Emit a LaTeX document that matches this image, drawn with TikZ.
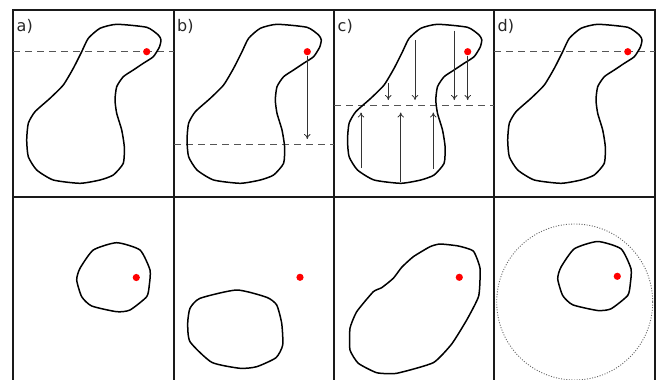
\documentclass[tikz,border=0pt]{standalone}
\usepackage{fontspec}
\setmainfont{DejaVu Sans}
\usetikzlibrary{arrows.meta}
\definecolor{framec}{HTML}{1A1A1A}
\definecolor{dashc}{HTML}{555555}
\definecolor{arrc}{HTML}{333333}
\tikzset{
  frame/.style={draw=framec, line width=2pt},
  blob/.style={draw=black, line width=1.5pt, line join=round},
  guide/.style={draw=dashc, line width=0.9pt, dash pattern=on 7pt off 5pt},
  shiftarrow/.style={draw=arrc, line width=0.8pt, -{To[length=5pt,width=6.5pt]}},
  reddot/.style={fill=red, draw=none},
  lbl/.style={anchor=base west, inner sep=0pt, font=\fontsize{16}{16}\selectfont, text=black!85},
  ring/.style={draw=gray!80!black, line width=0.9pt, dash pattern=on 1pt off 1.6pt}
}
\newcommand\blobtop{plot[smooth cycle,tension=0.35] coordinates {(116.7,24.3) (146.7,27.3) (158.3,35) (161,40) (159.3,47.3) (153.3,56.7) (143.3,63.3) (133.3,70) (123.3,76.7) (116.7,86.7) (115,100) (116.7,113.3) (121.7,130) (124.3,146.7) (123.3,163.3) (113.3,175) (100,180) (80,183.3) (53.3,180) (36.7,170) (28.3,156.7) (26.7,140) (28.3,123.3) (35,111.7) (50,98.3) (63.3,85) (73.3,68.3) (81.7,51.7) (88.3,38.3) (100,28.3)}}
\newcommand\blobsmall{plot[smooth cycle,tension=0.35] coordinates {(116.7,242.7) (140,250) (150,270) (149.3,285) (146.7,296.7) (130,310) (116.7,311.7) (91.7,306) (81.7,296.7) (76.7,280) (80,268.3) (93.3,250)}}
\begin{document}
\begin{tikzpicture}[x=1pt,y=-1pt]
\useasboundingbox (0,0) rectangle (661,380);
\begin{scope}
\clip (0,0) rectangle (661,380);
% frame grid
\draw[frame] (13,10) -- (655,10);
\draw[frame] (13,197) -- (655,197);
\foreach \xx in {13,174,334,494,655} \draw[frame] (\xx,9) -- (\xx,390);

% top-row guides
\draw[guide] (13,51.7) -- (174,51.7);
\draw[guide] (174,144) -- (334,144);
\draw[guide] (334,105) -- (494,105);
\draw[guide] (494,51.7) -- (655,51.7);

% top-row blobs
\draw[blob] \blobtop;
\draw[blob, shift={(160.3,0)}] \blobtop;
\draw[blob, shift={(320.8,0)}] \blobtop;
\draw[blob, shift={(481,0)}] \blobtop;

% arrows in b
\coordinate (b1s) at (307.3,56);
\coordinate (b1e) at (307.3,139);
\draw[shiftarrow] (b1s) -- (b1e);

% arrows in c
\coordinate (c1s) at (388.3,83);  \coordinate (c1e) at (388.3,100);
\coordinate (c2s) at (415,40);    \coordinate (c2e) at (415,100);
\coordinate (c3s) at (454.3,30.5);\coordinate (c3e) at (454.3,100);
\coordinate (c4s) at (467.7,56);  \coordinate (c4e) at (467.7,100);
\coordinate (c5s) at (361,168);   \coordinate (c5e) at (361,112.5);
\coordinate (c6s) at (400.7,182); \coordinate (c6e) at (400.7,112.5);
\coordinate (c7s) at (433.3,168.5);\coordinate (c7e) at (433.3,112.5);
\foreach \a in {1,...,7} \draw[shiftarrow] (c\a s) -- (c\a e);

% red dots top
\fill[reddot] (146.7,51.7) circle (3.6);
\fill[reddot] (307.3,51.7) circle (3.6);
\fill[reddot] (467.7,51.7) circle (3.6);
\fill[reddot] (627.8,51.7) circle (3.6);

% labels
\node[lbl] (la) at (16.5,31.3) {a)};
\node[lbl] (lb) at (177,31.3) {b)};
\node[lbl] (lc) at (337.5,31.3) {c)};
\node[lbl] (ld) at (497.5,31.3) {d)};

% bottom row
\draw[blob] \blobsmall;
\fill[reddot] (136.3,277.5) circle (3.6);

\draw[blob] plot[smooth cycle,tension=0.35] coordinates {(200,298.3) (236.7,290) (266.7,297.3) (276.7,305) (281.7,323.3) (282.7,345) (276,357.7) (256.7,366.7) (240,368.3) (211.7,362.3) (190,341.7) (187.7,323.3) (190,308.3)};
\fill[reddot] (300,277.3) circle (3.6);

\draw[blob] plot[smooth cycle,tension=0.3] coordinates {(440,244) (458.3,246) (473.3,251) (480,268.3) (478.7,296) (466.7,320) (451.7,344) (433.3,362.7) (396.7,373.3) (376.7,372.7) (358.3,363.3) (350,350) (350,328.3) (356.7,311.7) (373.3,291.7) (381.7,287.7) (393.3,278.3) (401.7,267.3) (413.3,256.7) (430,246.7)};
\fill[reddot] (459.3,277.3) circle (3.6);

\draw[ring] (574.7,302) circle (78);
\draw[blob, shift={(481,-1.2)}] \blobsmall;
\fill[reddot] (617.3,276.3) circle (3.6);
\end{scope}
\end{tikzpicture}
\end{document}
